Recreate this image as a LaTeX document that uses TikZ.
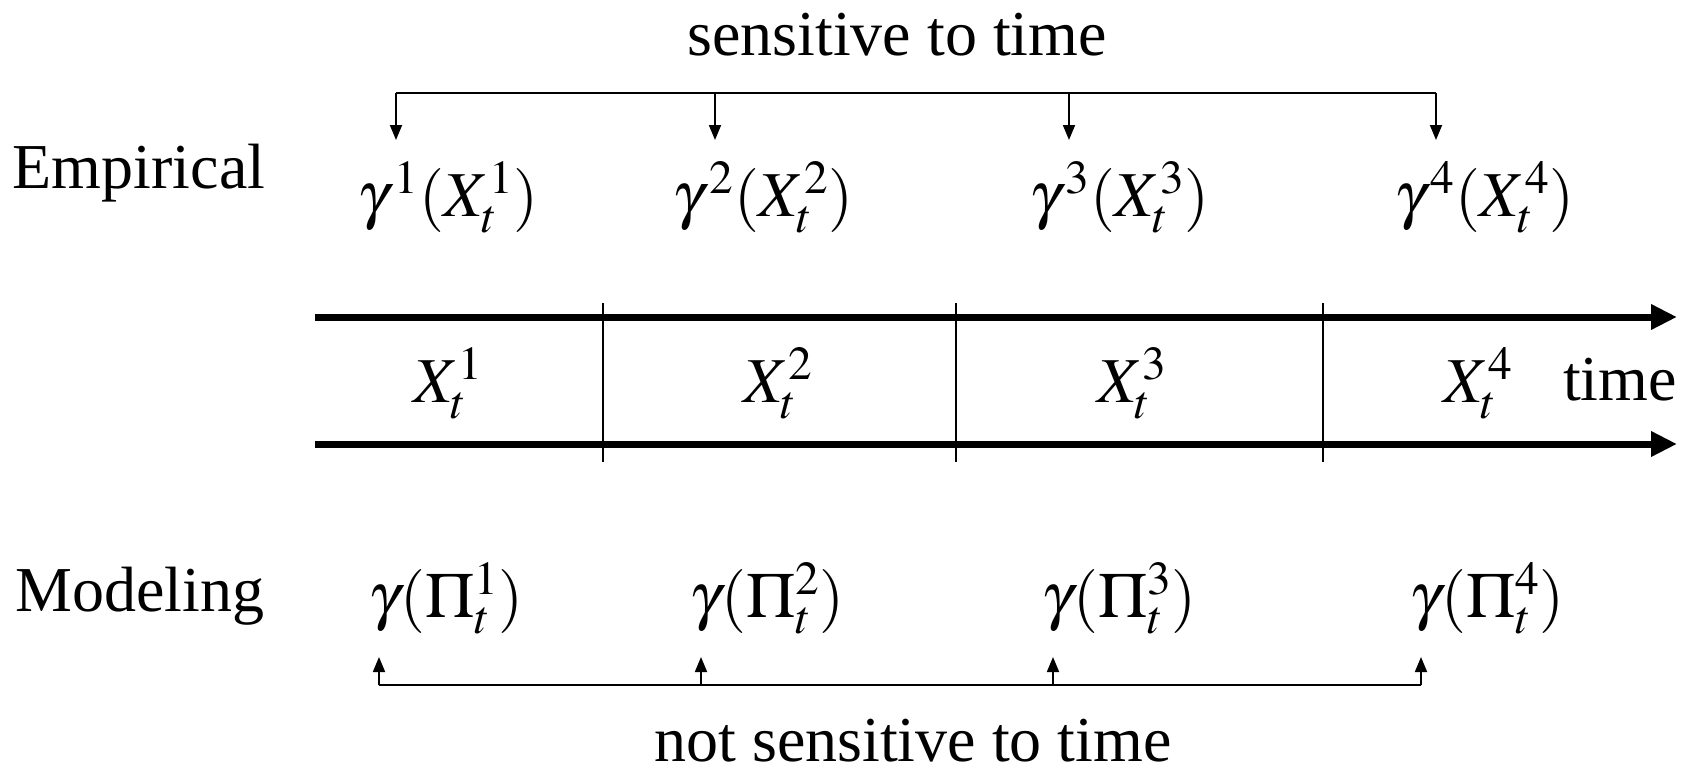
\documentclass[tikz,border=0pt]{standalone}
\usepackage{mathptmx}
\usepackage{fontspec}
\setmainfont{Liberation Serif}
\usetikzlibrary{arrows.meta}
\begin{document}
\begin{tikzpicture}[x=1pt,y=-1pt,
  txt/.style={inner sep=0pt,font=\fontsize{64}{68}\selectfont},
  thickarr/.style={line width=7pt,-{Triangle[length=26pt,width=24pt]}},
  thin/.style={line width=1.8pt},
  thinarr/.style={line width=1.8pt,-{Triangle[length=15pt,width=12pt]}}]
\useasboundingbox (0,0) rectangle (1698,776);
% top texts
\node[txt] (sens) at (897,35) {sensitive to time};
\node[txt] (emp) at (139,173) {Empirical};
\node[txt] (g1) at (448,197) {$\gamma^{\,1}(X^{1}_{t})$};
\node[txt] (g2) at (763,197) {$\gamma^{\,2}(X^{2}_{t})$};
\node[txt] (g3) at (1119,197) {$\gamma^{\,3}(X^{3}_{t})$};
\node[txt] (g4) at (1484,197) {$\gamma^{\,4}(X^{4}_{t})$};
% top bracket
\coordinate (t1) at (396,93); \coordinate (t2) at (715,93);
\coordinate (t3) at (1069,93); \coordinate (t4) at (1436,93);
\coordinate (a1) at (396,140); \coordinate (a2) at (715,140);
\coordinate (a3) at (1069,140); \coordinate (a4) at (1436,140);
\draw[thin] (t1) -- (t4);
\foreach \i in {1,2,3,4} \draw[thinarr] (t\i) -- (a\i);
% timeline
\coordinate (L1) at (315,317); \coordinate (R1) at (1677,317);
\coordinate (L2) at (315,444); \coordinate (R2) at (1677,444);
\draw[thickarr] (L1) -- (R1);
\draw[thickarr] (L2) -- (R2);
\coordinate (d1a) at (603,303); \coordinate (d1b) at (603,462);
\coordinate (d2a) at (956,303); \coordinate (d2b) at (956,462);
\coordinate (d3a) at (1323,303); \coordinate (d3b) at (1323,462);
\foreach \i in {1,2,3} \draw[thin] (d\i a) -- (d\i b);
\node[txt] (x1) at (448,383) {$X^{1}_{t}$};
\node[txt] (x2) at (778,383) {$X^{2}_{t}$};
\node[txt] (x3) at (1132,383) {$X^{3}_{t}$};
\node[txt] (x4) at (1478,383) {$X^{4}_{t}$};
\node[txt] (time) at (1620,380) {time};
% modeling
\node[txt] (mod) at (140,596) {Modeling};
\node[txt] (p1) at (446,598) {$\gamma(\Pi^{1}_{t})$};
\node[txt] (p2) at (767,598) {$\gamma(\Pi^{2}_{t})$};
\node[txt] (p3) at (1119,598) {$\gamma(\Pi^{3}_{t})$};
\node[txt] (p4) at (1487,598) {$\gamma(\Pi^{4}_{t})$};
\coordinate (b1) at (379,685); \coordinate (b2) at (701,685);
\coordinate (b3) at (1053,685); \coordinate (b4) at (1421,685);
\coordinate (c1) at (379,657); \coordinate (c2) at (701,657);
\coordinate (c3) at (1053,657); \coordinate (c4) at (1421,657);
\draw[thin] (b1) -- (b4);
\foreach \i in {1,2,3,4} \draw[thinarr] (b\i) -- (c\i);
\node[txt] (nsens) at (913,741) {not sensitive to time};
\end{tikzpicture}
\end{document}
